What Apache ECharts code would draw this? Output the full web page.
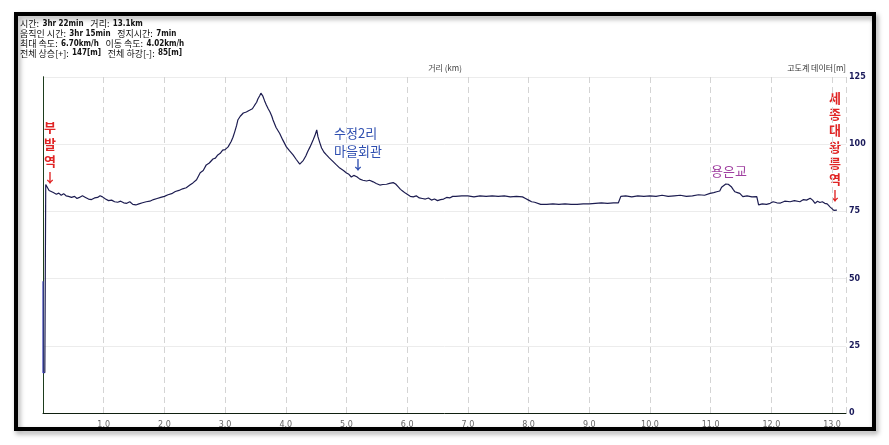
<!DOCTYPE html>
<html><head><meta charset="utf-8">
<script src="https://cdn.jsdelivr.net/npm/echarts@6/dist/echarts.min.js"></script>
<style>html,body{margin:0;padding:0;background:#fff;}#c{width:889px;height:445px;}</style>
</head><body><div id="c"></div>
<script>
// distance (km) and elevation (m)
const distKm = [0.03,0.045,0.07,0.10,0.13,0.17,0.22,0.26,0.30,0.34,0.38,0.42,0.47,0.52,0.56,0.60,0.65,0.70,0.75,0.80,0.85,0.90,0.94,0.98,1.03,1.08,1.13,1.18,1.23,1.28,1.33,1.38,1.43,1.48,1.53,1.58,1.64,1.70,1.76,1.82,1.88,1.94,2.00,2.06,2.12,2.18,2.24,2.30,2.36,2.42,2.47,2.53,2.59,2.64,2.69,2.74,2.80,2.84,2.88,2.92,2.96,3.00,3.05,3.10,3.13,3.16,3.19,3.21,3.25,3.30,3.35,3.41,3.45,3.49,3.52,3.54,3.57,3.59,3.62,3.65,3.68,3.71,3.74,3.77,3.79,3.84,3.90,3.95,4.01,4.06,4.12,4.17,4.23,4.26,4.29,4.33,4.36,4.40,4.45,4.48,4.51,4.53,4.56,4.59,4.63,4.67,4.72,4.78,4.83,4.89,4.95,5.00,5.04,5.08,5.12,5.17,5.22,5.27,5.33,5.38,5.44,5.49,5.55,5.60,5.66,5.71,5.77,5.81,5.85,5.89,5.93,5.97,6.00,6.05,6.10,6.15,6.20,6.25,6.30,6.35,6.40,6.45,6.50,6.55,6.60,6.65,6.70,6.75,6.80,6.90,7.00,7.10,7.20,7.30,7.40,7.50,7.60,7.70,7.80,7.90,7.95,8.00,8.05,8.10,8.20,8.30,8.40,8.50,8.60,8.70,8.80,8.90,9.00,9.10,9.20,9.30,9.40,9.48,9.52,9.60,9.70,9.80,9.90,10.00,10.10,10.20,10.30,10.40,10.50,10.60,10.70,10.80,10.90,10.99,11.05,11.10,11.15,11.18,11.21,11.25,11.29,11.34,11.37,11.40,11.44,11.48,11.53,11.60,11.68,11.76,11.79,11.85,11.92,11.98,12.03,12.09,12.15,12.22,12.31,12.38,12.47,12.53,12.58,12.64,12.68,12.72,12.76,12.80,12.84,12.88,12.92,12.94,12.97,13.00,13.03,13.05,13.08];
const elevM = [15,85,84.4,82.8,82.2,82.0,81.4,81.8,81.0,81.6,80.8,80.6,80.2,80.6,79.8,80.2,80.8,80.2,79.6,79.4,80.0,80.2,80.8,80.4,79.6,79.0,79.2,78.6,78.4,78.8,78.2,78.0,78.6,77.6,77.4,77.8,78.2,78.6,78.8,79.4,79.8,80.2,80.6,81.2,81.6,82.4,82.8,83.4,83.8,84.8,85.6,86.8,89.4,90.2,92.3,93.0,94.5,94.8,96.0,96.6,97.8,98.0,99.0,101.0,102.6,104.7,107.0,109.0,110.4,111.6,112.0,112.7,113.2,114.6,115.6,116.8,118.0,119.0,118.0,116.2,114.6,113.2,112.0,110.4,109.0,106.2,104.0,101.6,99.0,97.6,96.0,94.4,92.6,93.2,94.0,95.6,97.2,99.0,101.6,103.2,105.3,102.8,100.6,98.6,97.0,96.0,94.8,93.5,92.4,91.1,90.2,89.3,88.8,87.8,88.4,87.9,87.0,86.6,86.3,86.6,86.0,85.4,84.8,85.0,85.1,85.4,85.7,85.2,84.2,83.2,82.5,81.8,81.4,80.6,80.4,80.8,80.0,79.8,79.6,80.0,79.2,79.6,79.0,79.4,79.6,80.2,80.0,80.6,80.6,80.8,80.8,80.4,80.8,80.6,80.8,80.6,80.8,80.4,80.6,80.4,79.8,79.2,78.6,78.4,77.6,77.6,77.8,77.6,77.8,77.6,77.6,77.8,77.8,78.0,78.2,78.0,78.2,78.2,80.6,80.8,80.4,80.8,80.6,80.8,80.6,81.0,80.6,80.8,81.0,80.6,80.8,81.2,81.0,81.7,82.0,82.3,82.6,84.0,84.4,85.2,85.1,84.2,83.2,82.3,82.0,81.7,80.5,80.8,80.4,80.5,77.4,77.8,77.6,78.0,78.6,78.2,78.1,78.8,78.6,79.0,78.6,79.4,79.2,79.9,79.2,78.0,78.8,78.3,78.6,78.0,77.8,77.4,76.6,76.2,75.4,75.1,75.5];
// initial GPS segment (blue)
const startKm = [0.0, 0.0, 0.03];
const startM = [49, 15, 15];
// axis ticks
const yTicks = [0, 25, 50, 75, 100, 125];
const xMaxKm = 13.23;

const statLines = [
  '{k|시간:} {b|3hr 22min}  {k|거리:} {b|13.1km}',
  '{k|움직인 시간:} {b|3hr 15min}  {k|정지시간:} {b|7min}',
  '{k|최대 속도:} {b|6.70km/h}  {k|이동 속도:} {b|4.02km/h}',
  '{k|전체 상승[+]:} {b|147[m]}  {k|전체 하강[-]:} {b|85[m]}'
];

const KR = '"Noto Sans CJK KR","Noto Sans",sans-serif';
const chart = echarts.init(document.getElementById('c'), null, {renderer:'canvas'});

const mainData = distKm.map((d,i)=>[d, elevM[i]]);
const startData = startKm.map((d,i)=>[d, startM[i]]);

const graphics = [
  {type:'rect', shape:{x:16,y:14,width:858,height:415}, style:{fill:'none', stroke:'#000', lineWidth:4, shadowBlur:5, shadowOffsetX:2, shadowOffsetY:3, shadowColor:'rgba(0,0,0,0.35)'}, z:100},
  {type:'text', x:445, y:68, style:{text:'거리 (km)', font:'8px '+KR, fill:'#444', textAlign:'center', textVerticalAlign:'middle'}},
  {type:'text', x:846, y:68, style:{text:'고도계 데이터[m]', font:'8px '+KR, fill:'#333', textAlign:'right', textVerticalAlign:'middle'}},
  {type:'text', x:50, y:119, style:{text:'부\n발\n역\n↓', font:'bold 13px '+KR, lineHeight:16.7, fill:'#e02424', textAlign:'center'}},
  {type:'text', x:835, y:90, style:{text:'세\n종\n대\n왕\n릉\n역\n↓', font:'bold 13px '+KR, lineHeight:16.2, fill:'#e02424', textAlign:'center'}},
  {type:'text', x:334, y:124, style:{text:'수정2리\n마을회관', font:'13px '+KR, lineHeight:18, fill:'#2f4fb0', textAlign:'left'}},
  {type:'text', x:358, y:158, style:{text:'↓', font:'bold 13px '+KR, fill:'#2f4fb0', textAlign:'center'}},
  {type:'text', x:711, y:165, style:{text:'용은교', font:'13px '+KR, fill:'#a040a0', textAlign:'left'}}
];
statLines.forEach((t,i)=>{
  graphics.push({type:'text', x:20, y:24 + i*9.8, style:{text:t, textVerticalAlign:'middle', rich:{
    k:{font:'9px '+KR, fill:'#111'},
    b:{font:'bold 8px "DejaVu Sans Condensed","DejaVu Sans",sans-serif', fill:'#111'}
  }}});
});

chart.setOption({
  animation:false,
  backgroundColor:'#fff',
  grid:{left:43, right:43, top:77, bottom:32},
  xAxis:{type:'value', min:0, max:xMaxKm, interval:1,
    axisLine:{show:true, lineStyle:{color:'#102010', width:1}},
    axisTick:{show:false},
    axisLabel:{fontSize:8, color:'#666', margin:8, fontFamily:'DejaVu Sans', showMaxLabel:false,
      formatter:v=> v===0 ? '' : v.toFixed(1)},
    splitLine:{show:true, lineStyle:{color:'#d4d4d4', type:[6,4], width:1}}
  },
  yAxis:[
    {type:'value', position:'right', min:yTicks[0], max:yTicks[yTicks.length-1], interval:25,
      axisLine:{show:true, lineStyle:{color:'#000', width:1}},
      axisTick:{show:false},
      axisLabel:{fontSize:8, fontWeight:'bold', color:'#1a1a5a', margin:3, fontFamily:'DejaVu Sans'},
      splitLine:{show:true, lineStyle:{color:'#ececec', width:1}}
    },
    {type:'value', position:'left', min:0, max:125, interval:25,
      axisLine:{show:true, lineStyle:{color:'#1d3d1d', width:1}},
      axisTick:{show:false}, axisLabel:{show:false}, splitLine:{show:false}
    }
  ],
  series:[
    {type:'line', data:startData, showSymbol:false, lineStyle:{color:'#3a3ab8', width:1.2}},
    {type:'line', data:mainData, showSymbol:false, lineStyle:{color:'#1c1c50', width:1.2}}
  ],
  graphic:graphics
});
</script></body></html>
